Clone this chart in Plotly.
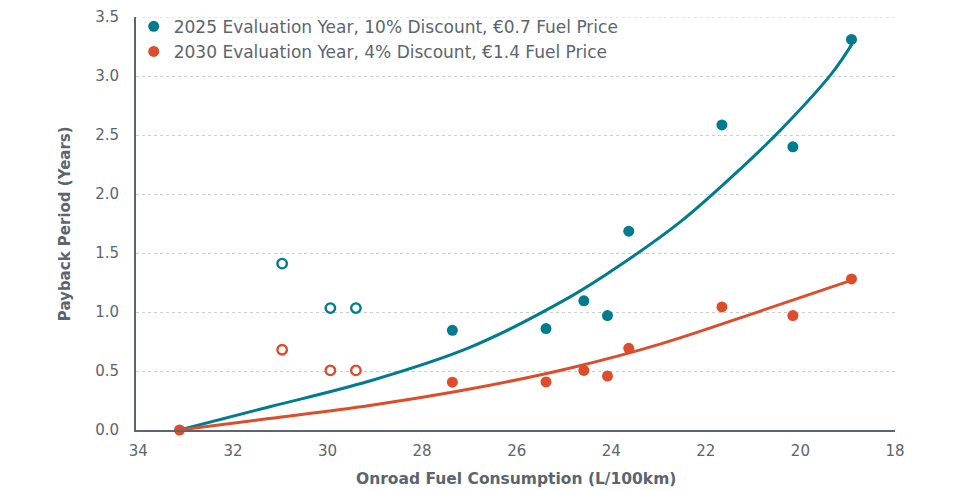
import plotly.graph_objects as go

# Data
fuel_filled = [27.36, 25.38, 24.58, 24.08, 23.63, 21.66, 20.16, 18.92]
pay2025_filled = [0.845, 0.86, 1.095, 0.97, 1.685, 2.585, 2.40, 3.31]
pay2030_filled = [0.405, 0.407, 0.505, 0.457, 0.692, 1.043, 0.97, 1.28]

fuel_hollow = [30.96, 29.94, 29.40]
pay2025_hollow = [1.41, 1.033, 1.033]
pay2030_hollow = [0.68, 0.505, 0.505]

base_fuel = [33.13]
base_pay = [0.0]

# Trend curves
curve2025_x = [33.13, 31.24, 29.11, 26.99, 24.86, 23.80, 22.52, 21.25, 20.40, 19.34, 18.91]
curve2025_y = [0.0, 0.195, 0.415, 0.70, 1.13, 1.40, 1.77, 2.22, 2.55, 3.02, 3.27]
curve2030_x = [33.13, 31.24, 29.11, 26.99, 24.86, 22.95, 20.83, 18.91]
curve2030_y = [0.0, 0.097, 0.208, 0.347, 0.526, 0.73, 1.01, 1.27]

y_ticks = [0.0, 0.5, 1.0, 1.5, 2.0, 2.5, 3.0, 3.5]
labels = ["2025 Evaluation Year, 10% Discount, €0.7 Fuel Price",
          "2030 Evaluation Year, 4% Discount, €1.4 Fuel Price"]
x_title = "Onroad Fuel Consumption (L/100km)"
y_title = "Payback Period (Years)"

TEAL = "#007C8E"
RED = "#DD4C2B"
GREY = "#5B6570"
GRID = "#C8CCD0"
FONT = "DejaVu Sans"

fig = go.Figure()

fig.add_trace(go.Scatter(x=curve2025_x, y=curve2025_y, mode="lines",
                         line=dict(color=TEAL, width=3, shape="spline", smoothing=1.0),
                         showlegend=False, hoverinfo="skip"))
fig.add_trace(go.Scatter(x=curve2030_x, y=curve2030_y, mode="lines",
                         line=dict(color=RED, width=3, shape="spline", smoothing=1.0),
                         showlegend=False, hoverinfo="skip"))

fig.add_trace(go.Scatter(x=fuel_filled, y=pay2025_filled, mode="markers", name=labels[0],
                         marker=dict(color=TEAL, size=11)))
fig.add_trace(go.Scatter(x=fuel_filled, y=pay2030_filled, mode="markers", name=labels[1],
                         marker=dict(color=RED, size=11)))
fig.add_trace(go.Scatter(x=fuel_hollow, y=pay2025_hollow, mode="markers", showlegend=False,
                         marker=dict(color="white", size=9.5, line=dict(color=TEAL, width=2.4))))
fig.add_trace(go.Scatter(x=fuel_hollow, y=pay2030_hollow, mode="markers", showlegend=False,
                         marker=dict(color="white", size=9.5, line=dict(color=RED, width=2.4))))
fig.add_trace(go.Scatter(x=base_fuel, y=base_pay, mode="markers", showlegend=False, cliponaxis=False,
                         marker=dict(color=RED, size=11)))

fig.update_layout(
    width=952, height=482,
    margin=dict(l=128, r=65, t=9, b=60, autoexpand=False),
    paper_bgcolor="white", plot_bgcolor="white",
    font=dict(family=FONT, color=GREY, size=15),
    legend=dict(x=-0.003, y=1.02, xanchor="left", yanchor="top", bgcolor="rgba(0,0,0,0)",
                font=dict(size=17, color=GREY), tracegroupgap=0,
                itemwidth=30),
    showlegend=True,
    shapes=[dict(type="line", xref="paper", yref="y", x0=0, x1=1, y0=y_ticks[-1], y1=y_ticks[-1],
                 line=dict(color=GRID, width=1, dash="dot"), layer="below")],
    annotations=[
        dict(text="<b>" + x_title + "</b>", xref="paper", yref="paper", x=0.5, y=-0.119,
             xanchor="center", yanchor="middle", showarrow=False, font=dict(size=15.5, color=GREY)),
        dict(text="<b>" + y_title + "</b>", xref="paper", yref="paper", x=-0.094, y=0.5,
             xanchor="center", yanchor="middle", textangle=-90, showarrow=False,
             font=dict(size=15, color=GREY)),
    ],
)

fig.update_xaxes(
    range=[34.05, 18], dtick=2, tick0=18, showgrid=False, zeroline=False, automargin=False,
    showline=True, linecolor=GREY, linewidth=2,
    ticks="", tickfont=dict(size=15, color=GREY), ticklabelstandoff=6,
)
fig.update_yaxes(
    range=[0, 3.5], tickmode="array", tickvals=y_ticks, ticktext=[f"{v:.1f}" for v in y_ticks],
    showgrid=True, gridcolor=GRID, griddash="dot", ticklabeloverflow="allow",
    gridwidth=1, zeroline=False, showline=True, linecolor=GREY, linewidth=2, automargin=False,
    ticks="", tickfont=dict(size=15, color=GREY), ticklabelstandoff=12,
)

fig.write_html("out.html")
